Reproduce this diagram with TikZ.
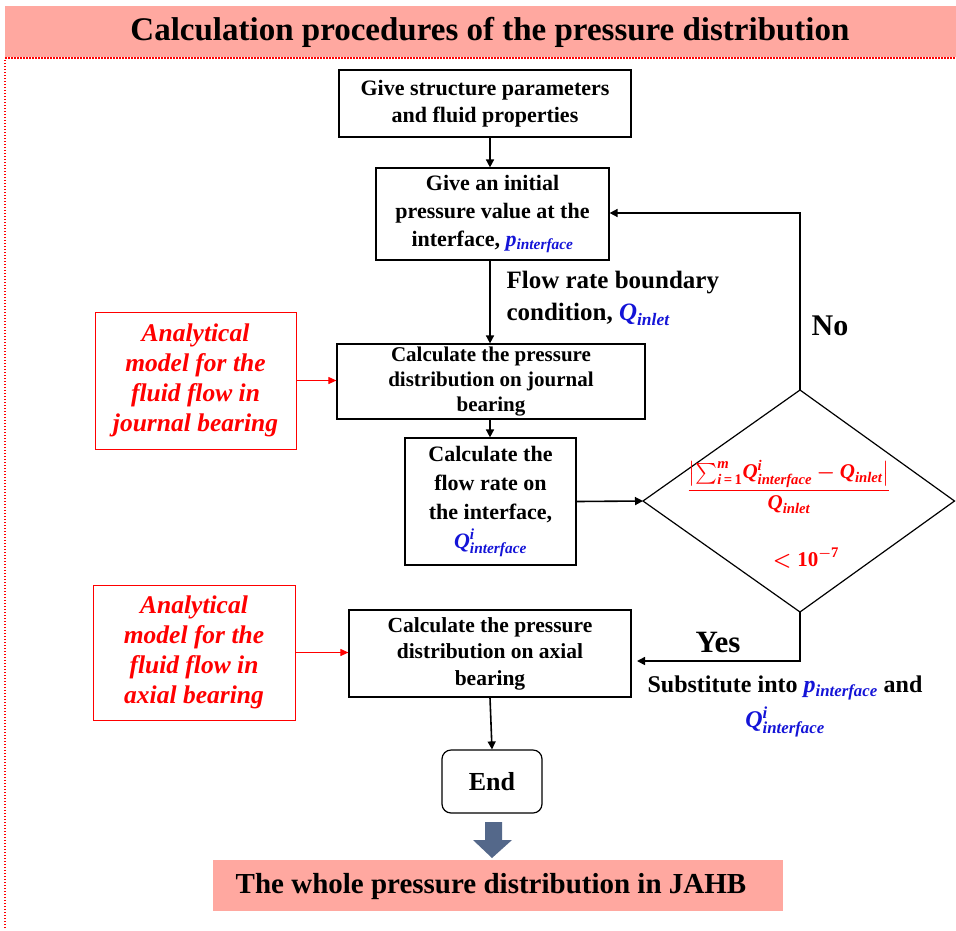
\documentclass[tikz,border=0pt]{standalone}
\usepackage{amsmath}
\usepackage{fontspec}
\setmainfont{Liberation Serif}
\usetikzlibrary{arrows.meta,calc}
\definecolor{salmon}{RGB}{255,168,160}
\definecolor{qblue}{RGB}{20,20,215}
\definecolor{bluegray}{RGB}{84,104,138}
\newcommand{\bi}[1]{\text{\bfseries\itshape #1}}
\newcommand{\pint}{{\color{qblue}\textbf{\textit{p}}$_{\bi{interface}}$}}
\newcommand{\qint}{{\color{qblue}$\bi{Q}^{\bi{i}}_{\bi{interface}}$}}
\newcommand{\qinl}{{\color{qblue}$\bi{Q}_{\bi{inlet}}$}}
\newcommand{\condfrac}{$\displaystyle\frac{\bigl\lvert\boldsymbol{\sum}_{\bi{i}\,\textbf{=}\,\textbf{1}}^{\bi{m}} \bi{Q}^{\bi{i}}_{\bi{interface}} \boldsymbol{-} \bi{Q}_{\bi{inlet}}\bigr\rvert}{\bi{Q}_{\bi{inlet}}}$}
\newcommand{\condlim}{$\boldsymbol{<}\textbf{10}^{\boldsymbol{-}\textbf{7}}$}
\tikzset{
  stepbox/.style={draw=black, line width=1.2pt, align=center, inner sep=2pt,
    font=\bfseries\fontsize{22}{27}\selectfont},
  redbox/.style={draw=red, line width=1pt, align=center, text=red,
    font=\bfseries\itshape\fontsize{25.5}{30}\selectfont},
  conn/.style={line width=1.6pt, -{Triangle[length=8pt,width=8pt]}},
  redconn/.style={red, line width=1pt, -{Triangle[length=8pt,width=7pt]}},
  lbl/.style={font=\bfseries\fontsize{25}{30}\selectfont, align=left},
  condstyle/.style={text=red, font=\bfseries\fontsize{21}{26}\selectfont},
}
\begin{document}
\begin{tikzpicture}[x=1pt,y=-1pt]
\useasboundingbox (0,0) rectangle (956,930);
% title band
\fill[salmon] (5,6) rectangle (956,57);
\node (title) at (490,32) {\bfseries\fontsize{33}{36}\selectfont Calculation procedures of the pressure distribution};
\draw[red, line width=1.3pt, dash pattern=on 1.5pt off 1.5pt] (5,928) -- (5,58) -- (956,58);
% boxes
\node[stepbox, minimum width=292pt, minimum height=67pt] (b1) at (485,103.5)
  {Give structure parameters\\and fluid properties};
\node[stepbox, minimum width=233pt, minimum height=92pt, font=\bfseries\fontsize{22}{28}\selectfont] (b2) at (492.5,214)
  {Give an initial\\pressure value at the\\interface, \pint};
\node[stepbox, minimum width=308pt, minimum height=75pt, font=\bfseries\fontsize{21}{25}\selectfont] (b3) at (491,381.5)
  {Calculate the pressure\\distribution on journal\\bearing};
\node[stepbox, minimum width=171pt, minimum height=127pt, font=\bfseries\fontsize{22}{29}\selectfont] (b4) at (490.5,501.5)
  {Calculate the\\flow rate on\\the interface,\\\qint};
\node[stepbox, minimum width=282pt, minimum height=87pt, font=\bfseries\fontsize{21.5}{26.5}\selectfont] (b5) at (490,653.5)
  {Calculate the pressure\\distribution on axial\\bearing};
\node[stepbox, rounded corners=9pt, minimum width=100pt, minimum height=63pt, font=\bfseries\fontsize{26}{28}\selectfont] (end) at (492,781.5) {End};
% red boxes
\node[redbox, minimum width=201pt, minimum height=137pt] (r1) at (195.5,380.5)
  {Analytical\\model for the\\fluid flow in\\journal bearing};
\node[redbox, minimum width=202pt, minimum height=135pt] (r2) at (194,652.5)
  {Analytical\\model for the\\fluid flow in\\axial bearing};
% diamond
\coordinate (dL) at (643,501);
\coordinate (dT) at (800,390);
\coordinate (dR) at (954.5,501);
\coordinate (dB) at (800,612);
\draw[line width=1.2pt] (dL) -- (dT) -- (dR) -- (dB) -- cycle;
\node[condstyle] (cfr) at (789,487) {\condfrac};
\node[condstyle] (clim) at (806,558) {\condlim};
% connectors
\coordinate (b1s) at ($(b1.south)+(5,0)$);
\coordinate (b2n) at ($(b2.north)+(-2.5,0)$);
\coordinate (b2s) at ($(b2.south)+(-2.5,0)$);
\coordinate (b3n) at ($(b3.north)+(-1,0)$);
\coordinate (b3s) at ($(b3.south)+(-1,0)$);
\coordinate (b4n) at ($(b4.north)+(-0.5,0)$);
\coordinate (b5s) at (b5.south);
\coordinate (endn) at (end.north);
\draw[conn] (b1s) -- (b2n);
\draw[conn] (b2s) -- (b3n);
\draw[conn] (b3s) -- (b4n);
\draw[conn] (b5s) -- (endn);
\draw[conn] (b4.east) -- (dL);
\coordinate (nocorner) at (800,213);
\coordinate (noend) at (b2.east |- nocorner);
\draw[conn] (dT) -- (nocorner) -- (noend);
\coordinate (yescorner) at (800,661);
\coordinate (yesend) at (637,661);
\draw[conn] (dB) -- (yescorner) -- (yesend);
\draw[redconn] (r1.east) -- (b3.west |- r1.east);
\draw[redconn] (r2.east) -- (b5.west |- r2.east);
% labels
\node[lbl, anchor=west] (flow) at (503,283) {Flow rate boundary};
\node[lbl, anchor=west] (flow2) at (503,314) {condition, \qinl};
\node[font=\bfseries\fontsize{30}{32}\selectfont] (no) at (830,326) {No};
\node[font=\bfseries\fontsize{31}{33}\selectfont] (yes) at (718,642) {Yes};
\node[font=\bfseries\fontsize{24}{28}\selectfont] (subst) at (785,688)
  {Substitute into \pint{} and};
\node[font=\bfseries\fontsize{24}{28}\selectfont] (subst2) at (785,722) {\qint};
% big arrow
\fill[bluegray] (485,822) -- (502,822) -- (502,840) -- (512,840) -- (492,858) -- (473,840) -- (485,840) -- cycle;
% bottom band
\fill[salmon] (213,860) rectangle (783,911);
\node (whole) at (491,887) {\bfseries\fontsize{29}{32}\selectfont The whole pressure distribution in JAHB};
\end{tikzpicture}
\end{document}
